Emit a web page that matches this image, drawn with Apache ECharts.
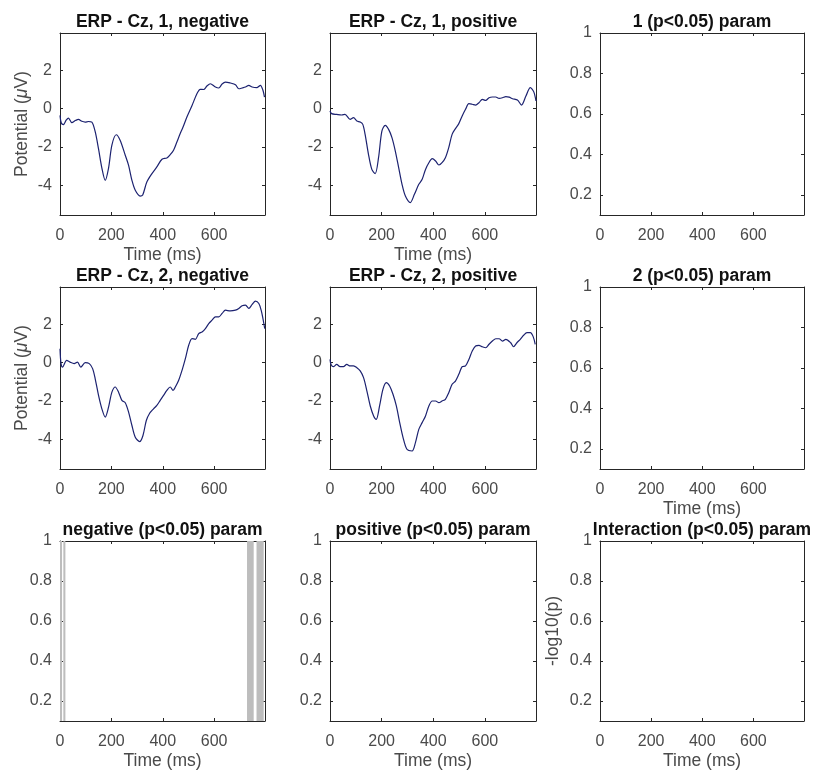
<!DOCTYPE html>
<html>
<head>
<meta charset="utf-8">
<script src="https://cdn.jsdelivr.net/npm/echarts@6/dist/echarts.min.js"></script>
<style>
  html, body { margin: 0; padding: 0; background: #ffffff; }
  #chart { width: 814px; height: 771px; }
</style>
</head>
<body>
<div id="chart"></div>
<script>
// ---- Grand-average ERP at Cz (time in ms, potential in microvolts) ----
const timeNeg1 = [0,5,13,24,33,46,60,72,85,98,111,124,137,150,163,176,189,202,219,234,254,267,280,293,312,322,338,358,377,397,416,429,442,455,468,479,494,514,533,546,559,572,585,605,618,631,644,663,683,696,709,722,735,748,767,780,790,796];
const erpNeg1  = [-0.35,-0.75,-0.83,-0.6,-0.49,-0.73,-0.62,-0.56,-0.66,-0.7,-0.67,-0.7,-1.2,-2.1,-3.1,-3.74,-3.1,-1.9,-1.36,-1.65,-2.43,-2.96,-3.74,-4.26,-4.56,-4.5,-3.83,-3.39,-3.04,-2.64,-2.57,-2.4,-2.17,-1.74,-1.3,-0.96,-0.43,0.17,0.78,1.01,1.0,1.18,1.3,1.13,1.08,1.29,1.39,1.34,1.25,1.04,1.08,1.13,1.22,1.13,1.1,1.22,0.96,0.6];

const timePos1 = [0,6,26,45,58,78,91,104,117,127,136,149,162,175,188,201,214,227,240,253,266,279,292,311,327,344,357,370,383,396,409,422,434,447,460,473,486,499,512,525,538,551,564,577,590,603,616,629,642,655,668,681,694,707,726,742,759,776,789,798];
const erpPos1  = [-0.12,-0.26,-0.3,-0.33,-0.3,-0.56,-0.47,-0.64,-0.7,-0.82,-1.34,-2.38,-3.17,-3.39,-2.56,-1.17,-0.87,-1.08,-1.51,-2.21,-3.08,-3.95,-4.56,-4.9,-4.47,-3.95,-3.69,-3.17,-2.82,-2.61,-2.73,-2.94,-2.82,-2.56,-2.03,-1.34,-1.04,-0.78,-0.38,-0.03,0.26,0.23,0.19,0.31,0.49,0.43,0.57,0.61,0.61,0.54,0.57,0.63,0.6,0.52,0.45,0.19,0.66,1.1,0.89,0.4];

const timeNeg2 = [0,4,10,26,39,55,68,81,98,114,127,137,150,163,176,189,202,215,228,241,254,267,280,293,310,323,336,349,364,377,390,403,416,429,440,449,462,475,488,501,514,527,540,553,566,579,592,605,618,631,644,663,683,696,709,722,735,748,761,774,783,790,797];
const erpNeg2  = [0.73,-0.05,-0.23,0.12,0.03,-0.05,0.03,-0.23,0,-0.05,-0.31,-0.84,-1.71,-2.41,-2.84,-2.32,-1.54,-1.27,-1.54,-1.97,-2.09,-2.58,-3.28,-3.89,-4.12,-3.8,-3.02,-2.64,-2.41,-2.23,-1.97,-1.71,-1.45,-1.27,-1.45,-1.27,-0.92,-0.4,0.21,0.91,1.26,1.22,1.52,1.6,1.78,2.04,2.22,2.39,2.39,2.57,2.74,2.7,2.74,2.83,2.97,3.0,2.83,3.04,3.21,3.09,2.74,2.3,1.78];

const timePos2 = [0,4,13,26,39,52,65,78,91,104,117,130,143,156,169,179,192,205,218,231,244,257,270,283,298,318,331,344,357,370,383,396,409,422,434,447,460,473,486,499,512,525,538,551,564,577,590,603,616,629,642,655,668,681,700,711,724,737,750,763,776,787,795];
const erpPos2  = [0.17,-0.09,-0.21,-0.09,-0.21,-0.21,-0.09,-0.17,-0.17,-0.26,-0.43,-0.78,-1.48,-2.26,-2.78,-2.96,-2.26,-1.39,-1.04,-1.22,-1.65,-2.26,-3.13,-3.91,-4.52,-4.61,-4.17,-3.48,-3.13,-2.78,-2.26,-2.0,-2.0,-2.09,-2.0,-1.91,-1.57,-1.13,-0.96,-0.61,-0.21,-0.17,0.17,0.61,0.87,0.9,0.83,0.78,0.96,1.13,1.25,1.25,1.13,1.22,1.04,0.83,1.04,1.22,1.43,1.57,1.57,1.36,0.96];

// ---- Significant time windows (ms) for the "negative" parametric test ----
const sigNegStart = [0, 13, 728, 765];
const sigNegEnd   = [8, 21, 754, 793];

// ---- Axis limits and tick labels ----
const timeLimits = [0, 798];
const timeTicks  = [0, 200, 400, 600];
const erpLimits  = [-5.55, 3.95];
const erpTicks   = [-4, -2, 0, 2];
const pLimits    = [0.1, 1];
const pTicks     = [0.2, 0.4, 0.6, 0.8, 1];

const panelTitles = [
  'ERP - Cz, 1, negative', 'ERP - Cz, 1, positive', '1 (p<0.05) param',
  'ERP - Cz, 2, negative', 'ERP - Cz, 2, positive', '2 (p<0.05) param',
  'negative (p<0.05) param', 'positive (p<0.05) param', 'Interaction (p<0.05) param'
];
const xNames = ['Time (ms)', 'Time (ms)', '', '', '', 'Time (ms)', 'Time (ms)', 'Time (ms)', 'Time (ms)'];
const yNames = ['Potential ({i|\u03bc}V)', '', '', 'Potential ({i|\u03bc}V)', '', '', '', '', '-log10(p)'];

// ---- Layout of the 3x3 subplot grid ----
const FONT = '"Liberation Sans", Arial, Helvetica, sans-serif';
const colLeft = [60, 330, 600];
const colWidth = [205, 206, 204];
const rowTop = [33, 287, 541];
const boxHeight = 182;
const axisColor = '#262626';
const textColor = '#4a4a4a';
const lineColor = '#1c2270';
const tickFont = 16, labelFont = 17.5, titleFont = 17.5;

const erpCurves = { 0: [timeNeg1, erpNeg1], 1: [timePos1, erpPos1], 3: [timeNeg2, erpNeg2], 4: [timePos2, erpPos2] };

const grids = [], xAxes = [], yAxes = [], titles = [], series = [];

for (let i = 0; i < 9; i++) {
  const r = Math.floor(i / 3), c = i % 3;
  const isErp = erpCurves[i] !== undefined;
  const yLim = isErp ? erpLimits : pLimits;
  const yTicks = isErp ? erpTicks : pTicks;

  grids.push({ left: colLeft[c], top: rowTop[r], width: colWidth[c], height: boxHeight, containLabel: false });

  titles.push({
    text: panelTitles[i],
    left: colLeft[c] + colWidth[c] / 2,
    top: rowTop[r] - 20,
    padding: 0,
    textAlign: 'center',
    textStyle: { fontFamily: FONT, fontSize: titleFont, fontWeight: 'bold', color: '#111111' }
  });

  const tickCommon = { show: true, inside: true, length: 3, lineStyle: { color: axisColor, width: 1 } };
  const lineCommon = { show: true, onZero: false, lineStyle: { color: axisColor, width: 1 } };

  // bottom x axis (labelled) and its top mirror
  xAxes.push({
    type: 'value', gridIndex: i, position: 'bottom', min: timeLimits[0], max: timeLimits[1],
    axisLine: lineCommon,
    axisTick: Object.assign({ customValues: timeTicks }, tickCommon),
    axisLabel: { customValues: timeTicks, fontFamily: FONT, fontSize: tickFont, color: textColor, margin: 13 },
    splitLine: { show: false },
    name: xNames[i], nameLocation: 'middle', nameGap: 31,
    nameTextStyle: { fontFamily: FONT, fontSize: labelFont, color: textColor }
  });
  xAxes.push({
    type: 'value', gridIndex: i, position: 'top', min: timeLimits[0], max: timeLimits[1],
    axisLine: lineCommon,
    axisTick: Object.assign({ customValues: timeTicks }, tickCommon),
    axisLabel: { show: false }, splitLine: { show: false }
  });

  // left y axis (labelled) and its right mirror
  yAxes.push({
    type: 'value', gridIndex: i, position: 'left', min: yLim[0], max: yLim[1],
    axisLine: lineCommon,
    axisTick: Object.assign({ customValues: yTicks }, tickCommon),
    axisLabel: { customValues: yTicks, fontFamily: FONT, fontSize: tickFont, color: textColor, margin: 8 },
    splitLine: { show: false },
    name: yNames[i], nameLocation: 'middle', nameRotate: 90, nameGap: i === 8 ? 38 : 29,
    nameTextStyle: { fontFamily: FONT, fontSize: labelFont, color: textColor,
      rich: { i: { fontFamily: FONT, fontSize: labelFont, fontStyle: 'italic', color: textColor } } }
  });
  yAxes.push({
    type: 'value', gridIndex: i, position: 'right', min: yLim[0], max: yLim[1],
    axisLine: lineCommon,
    axisTick: Object.assign({ customValues: yTicks }, tickCommon),
    axisLabel: { show: false }, splitLine: { show: false }
  });

  if (isErp) {
    const [t, v] = erpCurves[i];
    series.push({
      type: 'line', xAxisIndex: 2 * i, yAxisIndex: 2 * i,
      data: t.map((x, k) => [x, v[k]]),
      showSymbol: false, smooth: 0.3, clip: true,
      lineStyle: { color: lineColor, width: 1.2 },
      silent: true
    });
  }
}

// shaded significant windows in the "negative" parametric panel (index 6)
series.push({
  type: 'custom', xAxisIndex: 12, yAxisIndex: 12, clip: true, silent: true,
  data: sigNegStart.map((s, k) => [s, sigNegEnd[k], pLimits[0], pLimits[1]]),
  encode: { x: [0, 1], y: [2, 3] },
  renderItem: function (params, api) {
    const p0 = api.coord([api.value(0), api.value(3)]);
    const p1 = api.coord([api.value(1), api.value(2)]);
    return {
      type: 'rect',
      shape: { x: p0[0], y: p0[1], width: p1[0] - p0[0], height: p1[1] - p0[1] },
      style: { fill: '#bdbdbd' }
    };
  }
});

const chart = echarts.init(document.getElementById('chart'), null, { renderer: 'canvas' });
chart.setOption({
  animation: false,
  backgroundColor: '#ffffff',
  title: titles,
  grid: grids,
  xAxis: xAxes,
  yAxis: yAxes,
  series: series
});
</script>
</body>
</html>
